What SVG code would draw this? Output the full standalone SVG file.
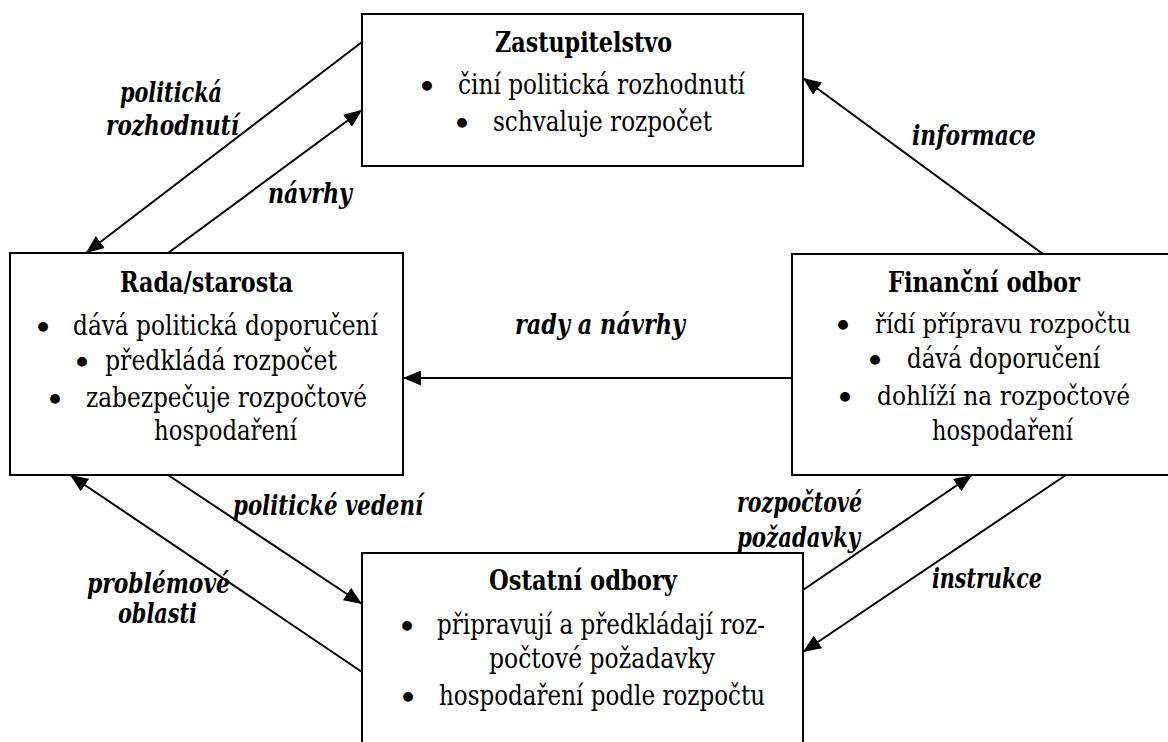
<svg xmlns="http://www.w3.org/2000/svg" width="1168" height="742" viewBox="0 0 1168 742">
<style>
.box{fill:#fff;stroke:#000;stroke-width:2}
text{font-family:'DejaVu Serif','Liberation Serif',serif;font-size:27px;fill:#000}
.h{font-weight:bold;font-size:28px}
.lbl{font-weight:bold;font-style:italic;font-size:28px}
.b{text-anchor:middle;font-size:34px}
.s{font-size:25.5px}
.c{fill:none;stroke:#000;stroke-width:2;marker-end:url(#ah)}
</style>
<defs>
<marker id="ah" markerUnits="userSpaceOnUse" markerWidth="19" markerHeight="15" refX="18" refY="7.5" orient="auto">
<path d="M0,0 L18,7.5 L0,15 z" fill="#000"/>
</marker>
</defs>
<rect width="1168" height="742" fill="#fff"/>
<g id="zastupitelstvo">
<rect class="box" x="362" y="14" width="441" height="152"/>
<text class="h" x="495" y="52" textLength="177" lengthAdjust="spacingAndGlyphs">Zastupitelstvo</text>
<text class="b" x="427" y="99">•</text>
<text x="458" y="94" textLength="287" lengthAdjust="spacingAndGlyphs">činí politická rozhodnutí</text>
<text class="b" x="462" y="136">•</text>
<text x="493" y="131" textLength="219" lengthAdjust="spacingAndGlyphs">schvaluje rozpočet</text>
</g>
<g id="rada">
<rect class="box" x="10" y="253" width="393" height="222"/>
<text class="h" x="120" y="292" textLength="173" lengthAdjust="spacingAndGlyphs">Rada/starosta</text>
<text class="b" x="43" y="340">•</text>
<text x="73" y="335" textLength="305" lengthAdjust="spacingAndGlyphs">dává politická doporučení</text>
<text class="b" x="82" y="375">•</text>
<text x="105" y="370" textLength="232" lengthAdjust="spacingAndGlyphs">předkládá rozpočet</text>
<text class="b" x="55" y="412">•</text>
<text x="86" y="407" textLength="281" lengthAdjust="spacingAndGlyphs">zabezpečuje rozpočtové</text>
<text x="154" y="440" textLength="143" lengthAdjust="spacingAndGlyphs">hospodaření</text>
</g>
<g id="financni">
<rect class="box" x="792" y="254" width="377" height="221"/>
<text class="h" x="888" y="292" textLength="192" lengthAdjust="spacingAndGlyphs">Finanční odbor</text>
<text class="b" x="843" y="338">•</text>
<text class="s" x="875" y="333" textLength="256" lengthAdjust="spacingAndGlyphs">řídí přípravu rozpočtu</text>
<text class="b" x="875" y="373">•</text>
<text x="907" y="368" textLength="193" lengthAdjust="spacingAndGlyphs">dává doporučení</text>
<text class="b" x="845" y="410">•</text>
<text class="s" x="877" y="405" textLength="253" lengthAdjust="spacingAndGlyphs">dohlíží na rozpočtové</text>
<text x="932" y="440" textLength="141" lengthAdjust="spacingAndGlyphs">hospodaření</text>
</g>
<g id="ostatni">
<rect class="box" x="362" y="553" width="441" height="250"/>
<text class="h" x="489" y="590" textLength="188" lengthAdjust="spacingAndGlyphs">Ostatní odbory</text>
<text class="b" x="407" y="639">•</text>
<text x="437" y="634" textLength="328" lengthAdjust="spacingAndGlyphs">připravují a předkládají roz-</text>
<text x="489" y="668" textLength="226" lengthAdjust="spacingAndGlyphs">počtové požadavky</text>
<text class="b" x="408" y="710">•</text>
<text x="439" y="705" textLength="326" lengthAdjust="spacingAndGlyphs">hospodaření podle rozpočtu</text>
</g>
<g id="connectors">
<path class="c" d="M362,42 L86,253"/>
<path class="c" d="M168,253 L362,110"/>
<path class="c" d="M1043,254 L803,78"/>
<path class="c" d="M792,378 L403,378"/>
<path class="c" d="M168,475 L362,604"/>
<path class="c" d="M362,672 L70,475"/>
<path class="c" d="M803,590 L972,475"/>
<path class="c" d="M1066,475 L803,652"/>
</g>
<g id="labels">
<text class="lbl" x="120" y="102" textLength="102" lengthAdjust="spacingAndGlyphs">politická</text>
<text class="lbl" x="106" y="135" textLength="133" lengthAdjust="spacingAndGlyphs">rozhodnutí</text>
<text class="lbl" x="268" y="203" textLength="84" lengthAdjust="spacingAndGlyphs">návrhy</text>
<text class="lbl" x="912" y="145" textLength="124" lengthAdjust="spacingAndGlyphs">informace</text>
<text class="lbl" x="515" y="334" textLength="170" lengthAdjust="spacingAndGlyphs">rady a návrhy</text>
<text class="lbl" x="233" y="515" textLength="190" lengthAdjust="spacingAndGlyphs">politické vedení</text>
<text class="lbl" x="87" y="593" textLength="143" lengthAdjust="spacingAndGlyphs">problémové</text>
<text class="lbl" x="118" y="623" textLength="79" lengthAdjust="spacingAndGlyphs">oblasti</text>
<text class="lbl" x="737" y="512" textLength="125" lengthAdjust="spacingAndGlyphs">rozpočtové</text>
<text class="lbl" x="737" y="547" textLength="123" lengthAdjust="spacingAndGlyphs">požadavky</text>
<text class="lbl" x="932" y="588" textLength="110" lengthAdjust="spacingAndGlyphs">instrukce</text>
</g>
</svg>
